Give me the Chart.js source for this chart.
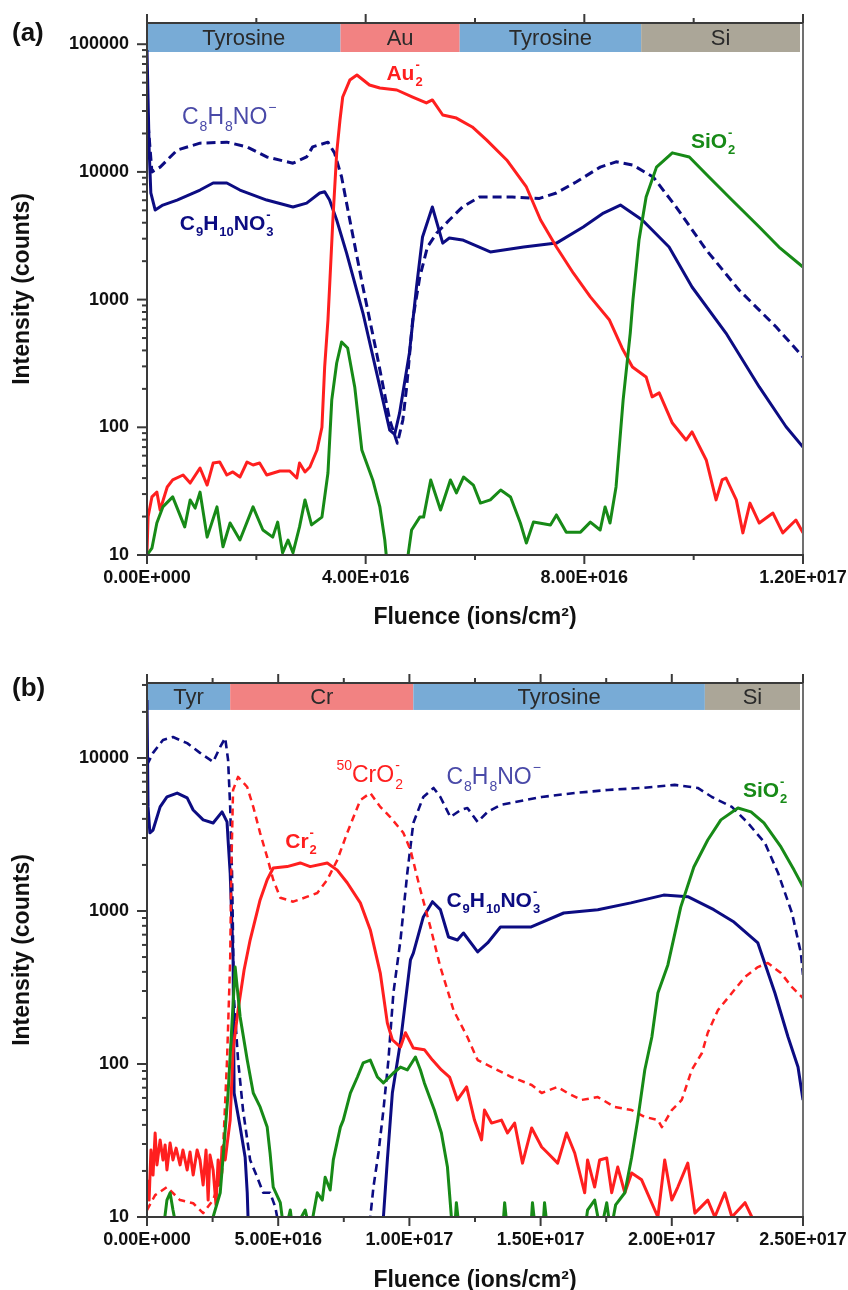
<!DOCTYPE html>
<html>
<head>
<meta charset="utf-8">
<script src="https://cdn.jsdelivr.net/npm/chart.js@4.4.1/dist/chart.umd.min.js"></script>
<style>
  html, body { margin: 0; padding: 0; background: #fff; }
  body { width: 848px; height: 1290px; position: relative; overflow: hidden; font-family: "Liberation Sans", Arial, sans-serif; }
  .panel { position: absolute; left: 0; width: 848px; }
  #wrapA { top: 0; height: 630px; }
  #wrapB { top: 630px; height: 660px; }
  .tag { position: absolute; left: 12px; font-weight: bold; font-size: 26px; line-height: 1; color: #111; }
</style>
</head>
<body>
<div id="wrapA" class="panel"><canvas id="chartA" width="848" height="630"></canvas></div>
<div id="wrapB" class="panel"><canvas id="chartB" width="848" height="660"></canvas></div>
<div class="tag" style="top:19px">(a)</div>
<div class="tag" style="top:674px">(b)</div>
<script>
// fluence in units of 1e16 ions/cm2, intensity in counts

// ---- panel (a): tyrosine / Au / tyrosine / Si ----
const aBandNames = ["Tyrosine", "Au", "Tyrosine", "Si"];
const aBandEdges = [0, 3.54, 5.72, 9.04, 12];

const aC9X = [0, 0.02, 0.04, 0.07, 0.15, 0.29, 0.55, 0.97, 1.21, 1.46, 1.70, 2.19, 2.67, 2.92, 3.16, 3.25, 3.34, 3.47, 3.65, 3.95, 4.26, 4.44, 4.53, 4.62, 4.80, 4.93, 5.04, 5.22, 5.41, 5.53, 5.77, 6.28, 6.89, 7.49, 7.98, 8.35, 8.66, 9.06, 9.55, 9.97, 10.59, 11.20, 11.69, 12.0];
const aC9Y = [90000, 36600, 14800, 6840, 5030, 5500, 6020, 7210, 8190, 8190, 7210, 6020, 5310, 5700, 6840, 7000, 6020, 4200, 2320, 785, 207, 95, 88, 129, 382, 1255, 3090, 5310, 2770, 3040, 2930, 2360, 2580, 2770, 3700, 4760, 5500, 4200, 2580, 1255, 547, 207, 101, 70];

const aC8X = [0, 0.09, 0.24, 0.55, 0.97, 1.46, 1.83, 2.19, 2.67, 2.92, 3.03, 3.31, 3.43, 3.56, 3.71, 3.95, 4.20, 4.44, 4.58, 4.68, 4.75, 4.86, 4.99, 5.13, 5.30, 5.53, 5.77, 6.08, 6.68, 7.18, 7.49, 7.85, 8.29, 8.58, 8.89, 9.26, 9.68, 10.23, 10.83, 11.51, 12.0];
const aC8Y = [30500, 10000, 10900, 14800, 16800, 17100, 15700, 13100, 11700, 13100, 15700, 17100, 14100, 9120, 4200, 1255, 382, 114, 75, 114, 207, 692, 1500, 2580, 3320, 4200, 5310, 6360, 6360, 6200, 6840, 8340, 10900, 12000, 11300, 9120, 5310, 2450, 1190, 610, 355];

const aAuX = [0, 0.02, 0.09, 0.18, 0.24, 0.37, 0.47, 0.66, 0.79, 0.97, 1.10, 1.21, 1.33, 1.46, 1.57, 1.70, 1.83, 1.94, 2.06, 2.19, 2.43, 2.61, 2.74, 2.79, 2.89, 2.98, 3.11, 3.20, 3.25, 3.31, 3.34, 3.40, 3.47, 3.53, 3.58, 3.71, 3.84, 4.07, 4.26, 4.57, 4.86, 5.11, 5.22, 5.41, 5.66, 5.95, 6.21, 6.58, 6.94, 7.20, 7.49, 7.80, 8.11, 8.46, 8.69, 8.88, 9.13, 9.24, 9.37, 9.61, 9.86, 9.97, 10.23, 10.41, 10.52, 10.59, 10.78, 10.90, 11.03, 11.20, 11.45, 11.63, 11.87, 12.0];
const aAuY = [10.5, 19.9, 28.5, 31.1, 22.5, 34.1, 38.7, 42.3, 36.6, 48, 35.3, 52.5, 53.5, 42.3, 44.7, 40.8, 53.5, 50.7, 52.5, 42.3, 45.5, 45.5, 40.1, 52.5, 44.7, 48.9, 66.4, 100, 297, 692, 1255, 4200, 14100, 25500, 38600, 52400, 57400, 47900, 45400, 43800, 38600, 34700, 36600, 27900, 26400, 22500, 17800, 12400, 7620, 4200, 2580, 1610, 1050, 692, 418, 297, 248, 173, 186, 108, 79.5, 92, 55.5, 27, 38.7, 40.1, 27, 14.9, 25.5, 17.8, 21.3, 14.9, 18.8, 14.9];

const aSiX = [0, 0.09, 0.18, 0.29, 0.47, 0.69, 0.79, 0.88, 0.97, 1.10, 1.28, 1.39, 1.52, 1.70, 1.94, 2.12, 2.30, 2.39, 2.48, 2.58, 2.67, 2.79, 2.89, 3.01, 3.20, 3.31, 3.38, 3.47, 3.56, 3.67, 3.80, 3.93, 4.13, 4.26, 4.35, 4.38, 4.55, 4.77, 4.84, 4.99, 5.06, 5.19, 5.37, 5.55, 5.66, 5.79, 5.97, 6.10, 6.28, 6.47, 6.65, 6.83, 6.94, 7.07, 7.38, 7.49, 7.67, 7.93, 8.11, 8.29, 8.38, 8.47, 8.58, 8.71, 8.84, 8.89, 9.00, 9.13, 9.32, 9.61, 9.92, 10.28, 10.70, 11.20, 11.56, 12.0];
const aSiY = [10, 11.3, 17.8, 23.8, 28.5, 16.6, 27, 23.3, 31.1, 13.8, 23.8, 11.6, 17.8, 13.1, 23.8, 15.7, 13.8, 18.1, 10.4, 13.1, 10.4, 16.6, 27, 17.2, 19.8, 43.9, 164, 319, 466, 418, 207, 66.4, 38.7, 23.8, 13.1, 9.6, 4, 9.6, 15.7, 19.8, 19.8, 38.7, 22.5, 38.7, 30.6, 40.8, 35.3, 25.5, 27, 32.3, 28.5, 17.8, 12.4, 18.1, 17.2, 20.6, 15.1, 15.1, 18.1, 15.7, 23.8, 17.8, 34.1, 164, 547, 1000, 2930, 6360, 10900, 14100, 13100, 9120, 6020, 3700, 2580, 1800];

const aYTicks = [10, 100, 1000, 10000, 100000];

// ---- panel (b): tyrosine / Cr / tyrosine / Si ----
const bBandNames = ["Tyr", "Cr", "Tyrosine", "Si"];
const bBandEdges = [0, 3.17, 10.15, 21.26, 25];

const bC9X = [0, 0.04, 0.11, 0.23, 0.50, 0.76, 1.15, 1.53, 1.76, 2.14, 2.52, 2.86, 3.05, 3.09, 3.17, 3.24, 3.28, 3.32, 3.55, 3.74, 3.82, 3.85, 3.93, 8.97, 9.01, 9.16, 9.35, 9.66, 10.04, 10.15, 10.53, 10.88, 11.18, 11.49, 11.83, 12.06, 12.60, 12.98, 13.47, 14.62, 15.88, 17.18, 18.44, 19.69, 20.61, 21.60, 22.37, 23.28, 23.93, 24.43, 24.81, 25.0];
const bC9Y = [23900, 4790, 3240, 3380, 4790, 5560, 5900, 5480, 4570, 3940, 3760, 4440, 3820, 2910, 1770, 785, 479, 64.6, 38.7, 24.6, 14.4, 10, 5, 5, 10, 23.6, 64.6, 139, 479, 531, 914, 1150, 1020, 676, 646, 718, 540, 618, 785, 785, 970, 1020, 1130, 1270, 1240, 1020, 847, 618, 291, 150, 95.5, 58.2];

const bC8X = [0, 0.23, 0.61, 0.99, 1.53, 2.02, 2.52, 2.79, 2.98, 3.09, 3.17, 3.24, 3.28, 3.30, 3.47, 3.66, 3.93, 4.20, 4.43, 4.69, 4.89, 4.96, 5.04, 8.44, 8.51, 8.63, 8.82, 9.01, 9.20, 9.39, 9.66, 9.92, 10.15, 10.53, 10.92, 11.18, 11.56, 11.95, 12.21, 12.60, 12.98, 13.47, 15.04, 16.30, 17.56, 18.85, 20.11, 20.99, 21.53, 22.29, 22.90, 23.55, 24.05, 24.58, 24.92, 25.0];
const bC8Y = [8990, 10800, 13100, 13700, 12500, 10800, 9420, 11800, 13500, 9710, 4790, 1770, 646, 291, 106, 50, 23.6, 18.2, 14.4, 14.4, 11.6, 10, 5, 5, 10, 15.7, 26.2, 50, 106, 291, 646, 1770, 3760, 5560, 6370, 5560, 4110, 4570, 4710, 3820, 4440, 4930, 5560, 5900, 6180, 6370, 6670, 6370, 5560, 4790, 3760, 2780, 1770, 970, 531, 382];

const bCrX = [0, 0.08, 0.15, 0.23, 0.31, 0.38, 0.50, 0.61, 0.69, 0.76, 0.88, 0.99, 1.11, 1.26, 1.37, 1.53, 1.64, 1.76, 1.91, 2.02, 2.14, 2.25, 2.33, 2.40, 2.52, 2.63, 2.71, 2.79, 2.86, 2.98, 3.05, 3.17, 3.28, 3.47, 3.70, 3.93, 4.31, 4.58, 4.81, 5.34, 5.84, 6.22, 6.87, 7.25, 7.63, 8.13, 8.51, 8.89, 9.16, 9.35, 9.66, 9.85, 10.15, 10.57, 10.88, 11.22, 11.53, 11.83, 12.18, 12.48, 12.75, 12.86, 13.13, 13.51, 13.74, 14.01, 14.31, 14.66, 15.04, 15.27, 15.65, 15.99, 16.30, 16.68, 16.79, 17.06, 17.25, 17.52, 17.71, 17.94, 18.21, 18.47, 18.85, 19.47, 19.73, 20.0, 20.23, 20.61, 20.88, 21.37, 21.64, 22.02, 22.29, 22.79, 23.05, 23.21];
const bCrY = [17.5, 12.9, 27.4, 18.8, 35.4, 21.9, 31.9, 23.6, 29.6, 20.3, 30.5, 23.6, 28.2, 21.9, 27.4, 20.3, 26.6, 18.8, 27.4, 23.6, 16.2, 27.4, 12.9, 25.4, 20.3, 12, 23.6, 16.2, 28.7, 23.6, 29.6, 43, 124, 225, 411, 646, 1180, 1600, 1910, 1950, 2060, 1950, 2060, 1850, 1530, 1130, 752, 393, 185, 144, 129, 160, 127, 124, 106, 91.4, 82.2, 58.2, 70.8, 43, 31.9, 50, 41.1, 43, 35.4, 41.1, 22.5, 38.2, 28.7, 26.2, 22.5, 35.4, 26.2, 14.4, 23.6, 15.7, 23.6, 24.3, 14.4, 21.2, 14.4, 19.4, 17.5, 10, 23.6, 12.9, 15.7, 22.5, 10.6, 12.9, 10, 14.4, 10, 12.4, 10, 5];

const bCrOX = [0, 0.31, 0.76, 1.26, 1.76, 2.14, 2.52, 2.86, 3.05, 3.17, 3.21, 3.28, 3.47, 3.82, 4.05, 4.31, 4.58, 4.81, 5.08, 5.57, 6.11, 6.49, 6.87, 7.25, 7.63, 8.13, 8.51, 8.89, 9.27, 9.77, 10.04, 10.42, 10.80, 11.18, 11.45, 11.68, 12.21, 12.60, 13.13, 13.89, 14.66, 15.04, 15.65, 16.03, 16.56, 17.18, 17.82, 18.47, 18.97, 19.47, 19.62, 20.0, 20.38, 20.76, 21.15, 21.37, 21.76, 22.29, 22.79, 23.28, 23.66, 24.16, 24.58, 25.0];
const bCrOY = [11.1, 13.9, 15.7, 12.9, 12.3, 10.6, 12.9, 19.4, 106, 479, 1770, 6180, 7520, 6460, 4790, 3240, 2250, 1600, 1220, 1150, 1240, 1310, 1600, 2150, 3240, 5310, 5900, 4790, 4110, 3240, 2510, 1370, 785, 430, 305, 225, 150, 106, 95.5, 82.2, 72.9, 64.6, 70.8, 64.6, 58.2, 60.8, 52.4, 50, 45.1, 43, 38.7, 50, 58.2, 91.4, 118, 160, 225, 291, 371, 430, 457, 393, 318, 270];

const bSiX = [0, 0.61, 0.76, 0.88, 0.99, 1.15, 2.40, 2.52, 2.79, 2.90, 3.09, 3.36, 3.55, 3.82, 4.05, 4.31, 4.58, 4.69, 4.81, 5.08, 5.15, 5.27, 5.46, 5.57, 6.03, 6.22, 6.49, 6.68, 6.79, 6.98, 7.10, 7.37, 7.48, 7.75, 8.02, 8.24, 8.51, 8.78, 9.01, 9.39, 9.66, 9.92, 10.23, 10.42, 10.57, 10.95, 11.22, 11.45, 11.60, 11.72, 11.79, 11.91, 13.55, 13.63, 13.74, 14.62, 14.69, 14.81, 15.08, 15.15, 15.27, 16.68, 16.79, 17.06, 17.29, 17.52, 17.67, 17.86, 18.21, 18.47, 18.70, 18.97, 19.24, 19.47, 19.85, 20.34, 20.84, 21.37, 21.87, 22.52, 23.02, 23.51, 24.16, 24.66, 25.0];
const bSiY = [8, 8, 12.9, 14.4, 11.1, 8, 8, 10, 14.4, 24.6, 64.6, 430, 203, 106, 64.6, 52.4, 38.7, 26.2, 15.7, 12.4, 10, 8, 11.1, 8, 11.1, 8, 14.4, 12.9, 18.2, 15, 23.6, 38.7, 43, 64.6, 82.2, 101.6, 106, 82.2, 75.2, 87.3, 95.5, 91.4, 111, 91.4, 75.2, 50, 35.4, 21.2, 10, 8, 12.4, 8, 8, 12.4, 8, 8, 12.4, 8, 8, 12.4, 8, 8, 11.1, 12.9, 8, 12.4, 8, 12, 14.4, 24.6, 43, 91.4, 150, 291, 444, 1060, 1940, 2910, 3940, 4710, 4440, 3760, 2620, 1850, 1440];

const bYTicks = [10, 100, 1000, 10000];

// ---- styles ----
const FONT = '"Liberation Sans", Arial, sans-serif';
const NAVY = "#0c0c82";
const SLATE = "#4a4aa8";
const RED = "#ff1f1f";
const GREEN = "#178a17";
const bandFill = { Tyrosine: "#78abd6", Tyr: "#78abd6", Au: "#f28282", Cr: "#f28282", Si: "#aba698" };

Chart.defaults.font.family = FONT;
Chart.defaults.color = "#111";

function pts(xs, ys) {
  return xs.map((x, i) => ({ x, y: ys[i] }));
}

function sci(v) {
  if (v === 0) return "0.00E+000";
  const f = v * 1e16;
  const e = Math.floor(Math.log10(f) + 1e-9);
  return (f / Math.pow(10, e)).toFixed(2) + "E+" + String(e).padStart(3, "0");
}

function drawFormula(ctx, parts, x, y, size, bold, color) {
  const w = bold ? "bold " : "";
  const small = Math.round(size * 0.6);
  ctx.fillStyle = color;
  ctx.textAlign = "left";
  ctx.textBaseline = "alphabetic";
  let cx = x;
  for (const p of parts) {
    if (p.t) {
      ctx.font = `${w}${size}px ${FONT}`;
      ctx.fillText(p.t, cx, y);
      cx += ctx.measureText(p.t).width;
    }
    ctx.font = `${w}${small}px ${FONT}`;
    let adv = 0;
    if (p.sub) {
      ctx.fillText(p.sub, cx + 1, y + size * 0.3);
      adv = ctx.measureText(p.sub).width + 1;
    }
    if (p.sup) {
      ctx.fillText(p.sup, cx + 1, y - size * 0.52);
      adv = Math.max(adv, ctx.measureText(p.sup).width + 1);
    }
    cx += adv;
  }
}

function seg(ctx, x0, y0, x1, y1) {
  ctx.beginPath();
  ctx.moveTo(x0, y0);
  ctx.lineTo(x1, y1);
  ctx.stroke();
}

const decor = {
  id: "decor",
  beforeDatasetsDraw(chart, args, o) {
    const { ctx, chartArea: a, scales: { x, y } } = chart;
    const yb = y.getPixelForValue(o.bandLow);
    ctx.save();
    o.bandNames.forEach((name, i) => {
      const x0 = x.getPixelForValue(o.bandEdges[i]);
      const x1 = Math.min(x.getPixelForValue(o.bandEdges[i + 1]), a.right - 3);
      ctx.fillStyle = bandFill[name];
      ctx.fillRect(x0, a.top, x1 - x0, yb - a.top);
      ctx.fillStyle = "#2a2a2a";
      ctx.font = `22px ${FONT}`;
      ctx.textAlign = "center";
      ctx.textBaseline = "middle";
      ctx.fillText(name, (x0 + x1) / 2, (a.top + yb) / 2 + 1);
    });
    ctx.restore();
  },
  afterDatasetsDraw(chart, args, o) {
    const { ctx, scales: { x, y } } = chart;
    ctx.save();
    o.labels.forEach((l) => {
      drawFormula(ctx, l.parts, x.getPixelForValue(l.x), y.getPixelForValue(l.y), l.size, l.bold, l.color);
    });
    ctx.restore();
  },
  afterDraw(chart, args, o) {
    const { ctx, chartArea: a, scales: { x, y } } = chart;
    ctx.save();
    ctx.lineWidth = 2;
    ctx.strokeStyle = "#707070";
    seg(ctx, a.right, a.top, a.right, a.bottom);
    ctx.strokeStyle = "#3a3a3a";
    seg(ctx, a.left - 1, a.top, a.right, a.top);
    seg(ctx, a.left, a.top, a.left, a.bottom + 1);
    seg(ctx, a.left - 1, a.bottom, a.right + 1, a.bottom);
    // fluence ticks, bottom and top, pointing outward
    for (let v = x.min; v <= x.max + 1e-9; v += o.xMinor) {
      const px = x.getPixelForValue(v);
      const r = v / o.xMajor;
      const len = Math.abs(r - Math.round(r)) < 1e-6 ? 9 : 5;
      seg(ctx, px, a.bottom, px, a.bottom + len);
      seg(ctx, px, a.top, px, a.top - len);
    }
    // log ticks on the left
    for (let e = 1; e < 7; e++) {
      for (let m = 1; m <= 9; m++) {
        const v = m * Math.pow(10, e);
        if (v > y.max) break;
        const py = y.getPixelForValue(v);
        seg(ctx, a.left - (m === 1 ? 10 : 5), py, a.left, py);
      }
    }
    ctx.restore();
  },
};

function buildChart(id, cfg) {
  return new Chart(document.getElementById(id), {
    type: "line",
    data: {
      datasets: cfg.series.map((s) => ({
        data: pts(s.x, s.y),
        borderColor: s.color,
        borderWidth: s.width,
        borderDash: s.dash || [],
        pointRadius: 0,
        tension: 0,
        fill: false,
        clip: 0,
        borderJoinStyle: "round",
      })),
    },
    options: {
      responsive: false,
      animation: false,
      layout: { padding: { top: cfg.top, right: 45, left: 0, bottom: 0 } },
      plugins: {
        legend: { display: false },
        tooltip: { enabled: false },
        decor: cfg.decor,
      },
      scales: {
        x: {
          type: "linear",
          min: 0,
          max: cfg.xMax,
          grid: { display: false, drawTicks: false },
          border: { display: false },
          ticks: {
            stepSize: cfg.xStep,
            autoSkip: false,
            maxRotation: 0,
            padding: 12,
            color: "#111",
            font: { size: 18, weight: "bold" },
            callback: (v) => sci(v),
          },
          title: {
            display: true,
            text: "Fluence (ions/cm²)",
            color: "#111",
            font: { size: 23, weight: "bold", lineHeight: 1 },
            padding: { top: 0, bottom: cfg.titleGap },
          },
          afterFit: (s) => {
            s.height = cfg.xAxisH;
            s.paddingLeft = 0;
            s.paddingRight = 0;
          },
        },
        y: {
          type: "logarithmic",
          min: 10,
          max: cfg.yMax,
          grid: { display: false, drawTicks: false },
          border: { display: false },
          afterBuildTicks: (s) => { s.ticks = cfg.yTicks.map((v) => ({ value: v })); },
          ticks: {
            autoSkip: false,
            padding: 18,
            color: "#111",
            font: { size: 18, weight: "bold" },
            callback: (v) => String(v),
          },
          title: {
            display: true,
            text: "Intensity (counts)",
            color: "#111",
            font: { size: 23, weight: "bold", lineHeight: 1 },
            padding: { top: 11, bottom: 0 },
          },
          afterFit: (s) => {
            s.width = 147;
            s.paddingTop = 0;
            s.paddingBottom = 0;
          },
        },
      },
    },
    plugins: [decor],
  });
}

buildChart("chartA", {
  top: 23, xAxisH: 75, titleGap: 1,
  xMax: 12, xStep: 4, yMax: 146600, yTicks: aYTicks,
  series: [
    { x: aSiX, y: aSiY, color: GREEN, width: 3 },
    { x: aAuX, y: aAuY, color: RED, width: 3 },
    { x: aC8X, y: aC8Y, color: NAVY, width: 3, dash: [9, 5] },
    { x: aC9X, y: aC9Y, color: NAVY, width: 3 },
  ],
  decor: {
    bandNames: aBandNames, bandEdges: aBandEdges, bandLow: 86900,
    xMajor: 4, xMinor: 2,
    labels: [
      { x: 0.64, y: 23700, size: 23, bold: false, color: SLATE, parts: [{ t: "C", sub: "8" }, { t: "H", sub: "8" }, { t: "NO", sup: "−" }] },
      { x: 0.60, y: 3510, size: 21, bold: true, color: NAVY, parts: [{ t: "C", sub: "9" }, { t: "H", sub: "10" }, { t: "NO", sub: "3", sup: "-" }] },
      { x: 4.38, y: 52500, size: 21, bold: true, color: RED, parts: [{ t: "Au", sub: "2", sup: "-" }] },
      { x: 9.95, y: 15400, size: 21, bold: true, color: GREEN, parts: [{ t: "SiO", sub: "2", sup: "-" }] },
    ],
  },
});

buildChart("chartB", {
  top: 53, xAxisH: 73, titleGap: -2,
  xMax: 25, xStep: 5, yMax: 30900, yTicks: bYTicks,
  series: [
    { x: bSiX, y: bSiY, color: GREEN, width: 3 },
    { x: bCrOX, y: bCrOY, color: RED, width: 2.5, dash: [7, 5] },
    { x: bCrX, y: bCrY, color: RED, width: 3 },
    { x: bC8X, y: bC8Y, color: NAVY, width: 2.6, dash: [8, 5] },
    { x: bC9X, y: bC9Y, color: NAVY, width: 3 },
  ],
  decor: {
    bandNames: bBandNames, bandEdges: bBandEdges, bandLow: 20600,
    xMajor: 5, xMinor: 2.5,
    labels: [
      { x: 5.27, y: 2580, size: 21, bold: true, color: RED, parts: [{ t: "Cr", sub: "2", sup: "-" }] },
      { x: 7.18, y: 6970, size: 23, bold: false, color: RED, parts: [{ sup: "50" }, { t: "CrO", sub: "2", sup: "-" }] },
      { x: 11.41, y: 6760, size: 23, bold: false, color: SLATE, parts: [{ t: "C", sub: "8" }, { t: "H", sub: "8" }, { t: "NO", sup: "−" }] },
      { x: 11.41, y: 1060, size: 21, bold: true, color: NAVY, parts: [{ t: "C", sub: "9" }, { t: "H", sub: "10" }, { t: "NO", sub: "3", sup: "-" }] },
      { x: 22.71, y: 5560, size: 21, bold: true, color: GREEN, parts: [{ t: "SiO", sub: "2", sup: "-" }] },
    ],
  },
});
</script>
</body>
</html>
